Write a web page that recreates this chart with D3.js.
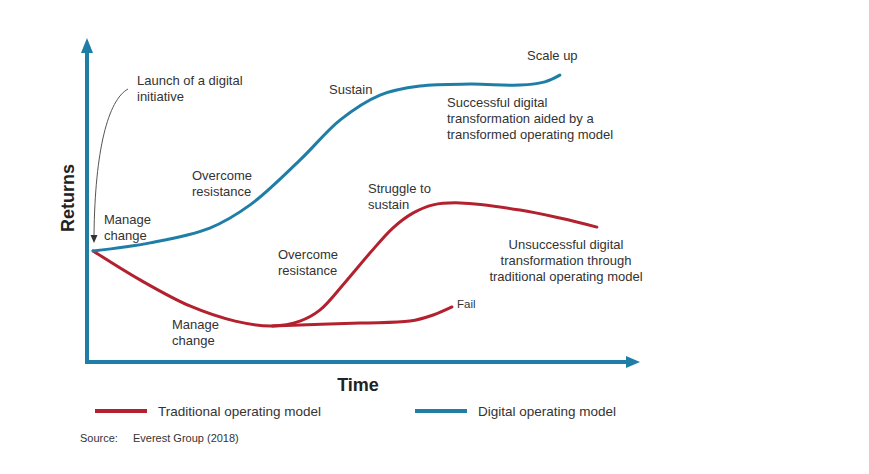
<!DOCTYPE html>
<html>
<head>
<meta charset="utf-8">
<script src="https://cdn.jsdelivr.net/npm/d3@7"></script>
<style>
html,body{margin:0;padding:0;background:#fff;}
svg{display:block;font-family:"Liberation Sans",Arial,sans-serif;}
</style>
</head>
<body>
<svg id="chart" width="869" height="474"></svg>
<script>
// ---- data (time 0..100, returns 0..100) ----
const digitalTime    = [1.1, 11.4, 22.2, 29.5, 38.5, 45.8, 53.0, 60.2, 69.3, 78.3, 82.8, 85.5];
const digitalReturns = [34.5, 37.0, 41.6, 48.8, 62.7, 75.2, 82.9, 85.7, 86.3, 86.0, 87.0, 89.1];

const tradTime    = [1.1, 9.6, 18.6, 26.8, 33.5, 38.5, 42.1, 46.7, 51.2, 55.3, 59.0, 62.6, 67.5, 78.3, 85.5, 92.2];
const tradReturns = [34.5, 25.5, 17.4, 12.7, 11.2, 12.7, 16.1, 24.8, 33.9, 41.6, 46.3, 48.8, 49.4, 47.2, 44.7, 41.9];

const failTime    = [33.5, 49.4, 58.4, 62.6, 66.0];
const failReturns = [11.2, 12.1, 12.7, 14.6, 17.1];

const seriesNames = ["Traditional operating model", "Digital operating model"];
const axisLabels  = ["Time", "Returns"];
const annotationTexts = [
  ["Launch of a digital", "initiative"],
  ["Sustain"],
  ["Scale up"],
  ["Successful digital", "transformation aided by a", "transformed operating model"],
  ["Overcome", "resistance"],
  ["Struggle to", "sustain"],
  ["Manage", "change"],
  ["Unsuccessful digital", "transformation through", "traditional operating model"],
  ["Overcome", "resistance"],
  ["Manage", "change"],
  ["Fail"]
];
const sourceLabel = "Source:";
const sourceText  = "Everest Group (2018)";

// ---- drawing ----
const svg = d3.select("#chart");
const blue = "#1f7ea6", red = "#b3212f", txt = "#333333";

const x = d3.scaleLinear().domain([0, 100]).range([87, 640]);
const y = d3.scaleLinear().domain([0, 100]).range([362, 40]);

// axes via d3 axis generators (no ticks)
const xAxis = svg.append("g").attr("transform", `translate(0,${y(0)})`)
  .call(d3.axisBottom(x).tickValues([]).tickSizeOuter(0));
const yAxis = svg.append("g").attr("transform", `translate(${x(0)},0)`)
  .call(d3.axisLeft(y).tickValues([]).tickSizeOuter(0));
[xAxis, yAxis].forEach(g => g.select(".domain")
  .attr("stroke", blue).attr("stroke-width", 4).attr("stroke-linecap", "square"));
xAxis.select(".domain").attr("d", `M${x(0)},0H${x(100) - 10}`);
yAxis.select(".domain").attr("d", `M0,${y(0)}V${y(100) + 10}`);
// arrowheads
svg.append("path")
  .attr("d", `M${x(100)},${y(0)} L${x(100) - 14},${y(0) - 6} L${x(100) - 14},${y(0) + 6} Z`)
  .attr("fill", blue);
svg.append("path")
  .attr("d", `M${x(0)},${y(100) - 2} L${x(0) - 6},${y(100) + 13} L${x(0) + 6},${y(100) + 13} Z`)
  .attr("fill", blue);

const line = d3.line().x(d => x(d[0])).y(d => y(d[1])).curve(d3.curveCatmullRom.alpha(0.5));
const zip = (a, b) => a.map((v, i) => [v, b[i]]);

svg.append("path").datum(zip(failTime, failReturns)).attr("d", line)
  .attr("fill", "none").attr("stroke", red).attr("stroke-width", 3).attr("stroke-linecap", "round");
svg.append("path").datum(zip(tradTime, tradReturns)).attr("d", line)
  .attr("fill", "none").attr("stroke", red).attr("stroke-width", 3).attr("stroke-linecap", "round");
svg.append("path").datum(zip(digitalTime, digitalReturns)).attr("d", line)
  .attr("fill", "none").attr("stroke", blue).attr("stroke-width", 3).attr("stroke-linecap", "round");

// launch pointer
svg.append("path")
  .attr("d", "M128,89 C108,100 95,150 94,235")
  .attr("fill", "none").attr("stroke", "#555").attr("stroke-width", 1);
svg.append("path").attr("d", "M94,243 L90.5,235 L97.5,235 Z").attr("fill", "#333");

// annotations: layout [x, y baseline, anchor]
const annoLayout = [
  [137, 85, "start"],
  [329, 94, "start"],
  [527, 60, "start"],
  [447, 107, "start"],
  [192, 180, "start"],
  [368, 193, "start"],
  [104, 224, "start"],
  [566, 249, "middle"],
  [278, 259, "start"],
  [172, 329, "start"],
  [457, 308, "start"]
];
annotationTexts.forEach((lines, i) => {
  const [ax, ay, anchor] = annoLayout[i];
  const t = svg.append("text").attr("x", ax).attr("y", ay)
    .attr("font-size", i === 10 ? 11.5 : 13).attr("fill", txt).attr("text-anchor", anchor);
  lines.forEach((l, j) => t.append("tspan").attr("x", ax).attr("dy", j === 0 ? 0 : 16).text(l));
});

// axis titles
svg.append("text").attr("x", 358).attr("y", 391).attr("text-anchor", "middle")
  .attr("font-size", 18).attr("font-weight", "bold").attr("fill", "#222").text(axisLabels[0]);
svg.append("text").attr("transform", "translate(74,198) rotate(-90)").attr("text-anchor", "middle")
  .attr("font-size", 18).attr("font-weight", "bold").attr("fill", "#222").text(axisLabels[1]);

// legend
const legend = [[95, red], [415, blue]];
seriesNames.forEach((n, i) => {
  const [lx, c] = legend[i];
  svg.append("line").attr("x1", lx).attr("x2", lx + 52).attr("y1", 411).attr("y2", 411)
    .attr("stroke", c).attr("stroke-width", 4);
  svg.append("text").attr("x", lx + 63).attr("y", 416).attr("font-size", 13.5)
    .attr("fill", txt).text(n);
});

// source
svg.append("text").attr("x", 80).attr("y", 442).attr("font-size", 11).attr("fill", txt).text(sourceLabel);
svg.append("text").attr("x", 133).attr("y", 442).attr("font-size", 11).attr("fill", txt).text(sourceText);
</script>
</body>
</html>
